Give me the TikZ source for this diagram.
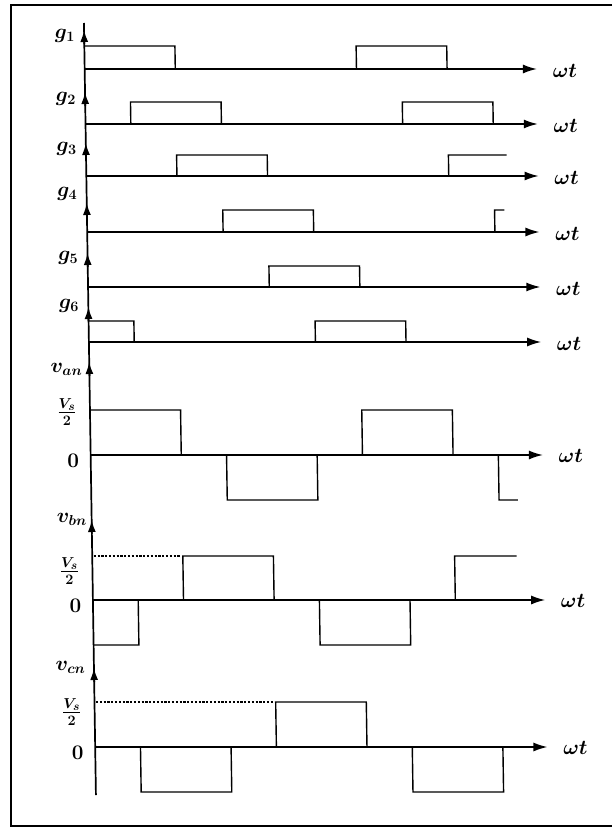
\documentclass[tikz,border=0pt]{standalone}
\usetikzlibrary{arrows.meta}
\begin{document}
\begin{tikzpicture}[x=1pt,y=-1pt,
  wave/.style={line width=1.4pt},
  axisline/.style={line width=1.7pt},
  harrow/.style={line width=1.5pt,-{Latex[length=14pt,width=9pt]}},
  varrow/.style={line width=1.7pt,-{Latex[length=12pt,width=8pt]}},
  lvl/.style={line width=1.3pt,dash pattern=on 2.2pt off 1.6pt},
  lab/.style={font=\huge\boldmath, inner sep=0pt},
  zlab/.style={font=\huge\bfseries, inner sep=0pt},
  frlab/.style={font=\huge\boldmath, inner sep=0pt},
  framel/.style={line width=1.3pt}]
\useasboundingbox (0,0) rectangle (614,829);
\draw[framel] (612,5) -- (11,5) -- (11,826) -- (612,826);
\begin{scope}[xslant=-0.0155, shift={(83.6,0)}, x=0.755pt]
  % vertical axis
  \draw[axisline] (0,23) -- (0,795);
  \foreach \t in {30,92,143,203,253,307,362,520,668}
    \draw[varrow] (0,\t+14) -- (0,\t);
  % time axes
  \foreach \b/\n in {69/1,124/2,176/3,232/4,287/5,342/6,455/7,600/8,747/9}
    \draw[harrow] (0,\b) coordinate (o\n) -- (599,\b) coordinate (e\n);
  % labels g
  \node[lab,anchor=east] (lg1) at (-12,36) {$g_1$};
  \node[lab,anchor=east] (lg2) at (-12,99) {$g_2$};
  \node[lab,anchor=east] (lg3) at (-12,149) {$g_3$};
  \node[lab,anchor=east] (lg4) at (-12,194) {$g_4$};
  \node[lab,anchor=east] (lg5) at (-12,258) {$g_5$};
  \node[lab,anchor=east] (lg6) at (-12,306) {$g_6$};
  % omega t labels
  \foreach \b/\n in {71/1,126/2,178/3,234/4,289/5,344/6,456/7,601/8,748/9}
    \node[lab] (w\n) at (636,\b) {$\omega t$};
  % g waveforms
  \draw[wave] (0,46) -- (120,46) -- (120,69);
  \draw[wave] (360,69) -- (360,46) -- (480,46) -- (480,69);
  \draw[wave] (60,124) -- (60,102) -- (180,102) -- (180,124);
  \draw[wave] (420,124) -- (420,102) -- (540,102) -- (540,124);
  \draw[wave] (120,176) -- (120,155) -- (240,155) -- (240,176);
  \draw[wave] (480,176) -- (480,155) -- (557,155);
  \draw[wave] (180,232) -- (180,210) -- (300,210) -- (300,232);
  \draw[wave] (540,232) -- (540,210) -- (553,210);
  \draw[wave] (240,287) -- (240,266) -- (360,266) -- (360,287);
  \draw[wave] (0,321) -- (60,321) -- (60,342);
  \draw[wave] (300,342) -- (300,321) -- (420,321) -- (420,342);
  % v_an
  \node[lab,anchor=east] (lva) at (-9,369) {$v_{an}$};
  \node[frlab] (fa) at (-30.5,412) {$\frac{V_s}{2}$};
  \node[zlab] (za) at (-23.3,461) {0};
  \draw[wave] (0,410) -- (120,410) -- (120,455) -- (180,455) -- (180,500) -- (300,500) -- (300,455)
     -- (360,455) -- (360,410) -- (480,410) -- (480,455) -- (540,455) -- (540,500) -- (565,500);
  % v_bn
  \node[lab,anchor=east] (lvb) at (-6,519) {$v_{bn}$};
  \node[frlab] (fb) at (-30.5,571) {$\frac{V_s}{2}$};
  \node[zlab] (zb) at (-23.3,606) {0};
  \draw[lvl] (2,556) -- (116,556);
  \draw[wave] (0,645) -- (60,645) -- (60,600);
  \draw[wave] (120,600) -- (120,556) -- (240,556) -- (240,600);
  \draw[wave] (300,600) -- (300,645) -- (420,645) -- (420,600);
  \draw[wave] (480,600) -- (480,556) -- (562,556);
  % v_cn
  \node[lab,anchor=east] (lvc) at (-11,667) {$v_{cn}$};
  \node[frlab] (fc) at (-30.5,712) {$\frac{V_s}{2}$};
  \node[zlab] (zc) at (-23.3,753) {0};
  \draw[lvl] (2,702) -- (238,702);
  \draw[wave] (60,747) -- (60,792) -- (180,792) -- (180,747);
  \draw[wave] (240,747) -- (240,702) -- (360,702) -- (360,747);
  \draw[wave] (420,747) -- (420,792) -- (540,792) -- (540,747);
\end{scope}
\end{tikzpicture}
\end{document}
